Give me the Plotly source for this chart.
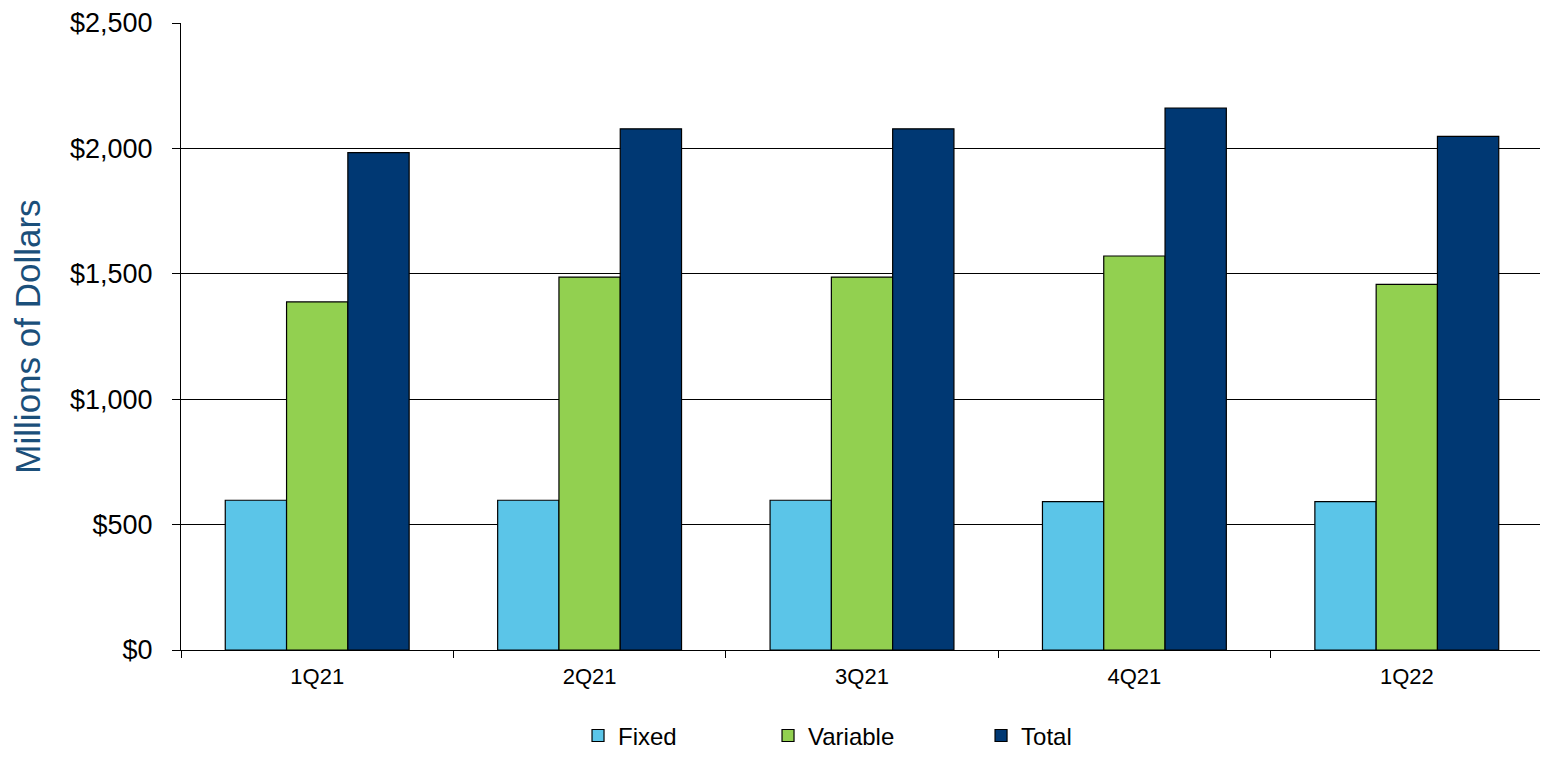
import plotly.graph_objects as go

categories = ["1Q21", "2Q21", "3Q21", "4Q21", "1Q22"]
fixed = [597, 597, 597, 592, 592]
variable = [1388, 1487, 1487, 1571, 1458]
total = [1983, 2078, 2078, 2161, 2048]
y_ticks = [0, 500, 1000, 1500, 2000, 2500]
y_tick_labels = ["$0", "$500", "$1,000", "$1,500", "$2,000", "$2,500"]

series = [("Fixed", fixed, "#5BC5E8", "legend"),
          ("Variable", variable, "#92D050", "legend2"),
          ("Total", total, "#003873", "legend3")]

fig = go.Figure()
for name, vals, col, lg in series:
    fig.add_trace(go.Bar(x=categories, y=vals, name=name, legend=lg,
                         marker=dict(color=col, line=dict(color="#000000", width=1.2))))

leg_common = dict(orientation="h", yref="container", y=0.019, yanchor="middle", xanchor="left",
                  font=dict(size=24), itemwidth=30, bgcolor="rgba(0,0,0,0)")
fig.update_layout(
    barmode="group",
    bargap=0.325,
    bargroupgap=0,
    width=1535, height=742,
    margin=dict(l=173, r=0, t=15, b=100),
    plot_bgcolor="white", paper_bgcolor="white",
    font=dict(family="Liberation Sans, Arial, sans-serif", color="#000000"),
    legend=dict(x=0.2915, **leg_common),
    legend2=dict(x=0.431, **leg_common),
    legend3=dict(x=0.5874, **leg_common),
    showlegend=True,
)
fig.update_xaxes(showline=True, linecolor="#000000", linewidth=1.2, ticks="outside", tickson="boundaries",
                 ticklen=7, tickcolor="#000000", tickfont=dict(size=22), showgrid=False,
                 ticklabelstandoff=6, automargin=False)
fig.update_yaxes(range=[0, 2500], tickvals=y_ticks, ticktext=y_tick_labels, showline=True, linecolor="#000000",
                 linewidth=1.2, ticks="outside", ticklen=8, tickcolor="#000000", tickfont=dict(size=27),
                 showgrid=True, gridcolor="#000000", gridwidth=1, zeroline=False, ticklabelstandoff=14,
                 ticklabeloverflow="allow", automargin=False,
                 title=dict(text="Millions of Dollars", font=dict(size=35, color="#1B4F7A"), standoff=18))

fig.write_html("out.html")
